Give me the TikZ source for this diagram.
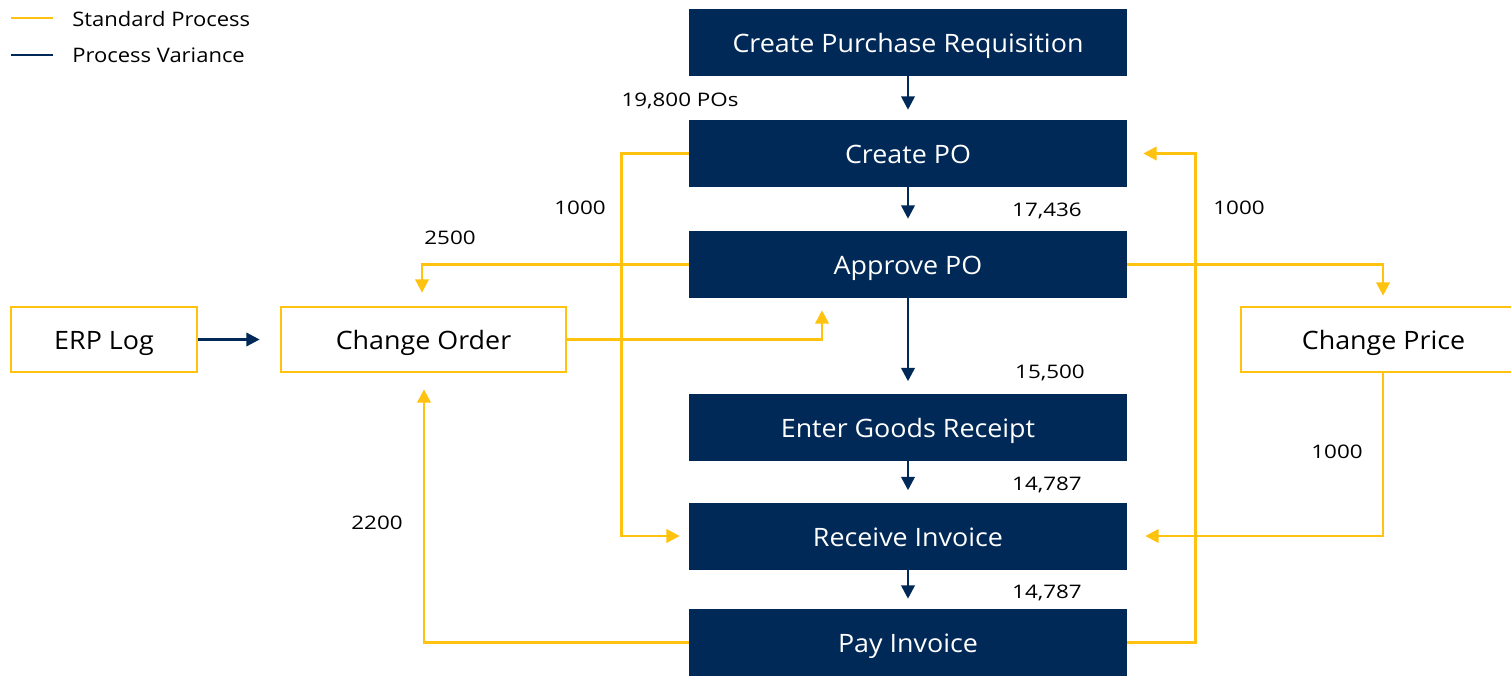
\documentclass[tikz,border=0pt]{standalone}
\usepackage{fontspec}
\setmainfont{Open Sans}
\newfontfamily\boxfont[FakeStretch=1.06]{Open Sans}
\newfontfamily\lblfont[FakeStretch=1.2]{Open Sans}
\newfontfamily\legfont[FakeStretch=1.1]{Open Sans}
\usetikzlibrary{arrows.meta,calc}
\definecolor{navy}{RGB}{0,41,87}
\definecolor{gold}{RGB}{255,194,14}
\tikzset{
  mainbox/.style={fill=navy, draw=none, text=white, minimum width=328.5pt, minimum height=50.25pt, inner sep=0pt, text height=15.6pt, text depth=0pt, font=\boxfont\fontsize{19}{22}\selectfont},
  sidebox/.style={draw=gold, line width=2pt, fill=white, text=black, minimum height=48.75pt, inner sep=0pt, text height=15.6pt, text depth=0pt, font=\boxfont\fontsize{19}{22}\selectfont},
  lbl/.style={inner sep=0pt, text=black, font=\lblfont\fontsize{14}{16}\selectfont},
  leg/.style={inner sep=0pt, text=black, font=\legfont\fontsize{15}{18}\selectfont},
  yarrow/.style={draw=gold, line width=2pt, -{Triangle[length=10pt,width=10pt]}},
  narrow/.style={draw=navy, line width=2pt, -{Triangle[length=10pt,width=10pt]}},
}
\begin{document}
\begin{tikzpicture}[x=0.75pt,y=-0.75pt]
\useasboundingbox (0,0) rectangle (1511,676);
% main column
\node[mainbox] (cpr) at (908,42.5) {Create Purchase Requisition};
\node[mainbox] (cpo) at (908,153.5) {Create PO};
\node[mainbox] (apo) at (908,264.5) {Approve PO};
\node[mainbox] (egr) at (908,427) {Enter Goods Receipt};
\node[mainbox] (ri) at (908,536) {Receive Invoice};
\node[mainbox] (pi) at (908,642.5) {Pay Invoice};
% side boxes
\node[sidebox, minimum width=139.5pt] (erp) at (104,339.5) {ERP Log};
\node[sidebox, minimum width=213.75pt] (co) at (423.5,339.5) {Change Order};
\node[sidebox, minimum width=213.75pt] (cp) at (1383.5,339.5) {Change Price};
% dark arrows
\draw[narrow] (cpr.south) -- ($(cpo.north)+(0,-10)$);
\draw[narrow] (cpo.south) -- ($(apo.north)+(0,-12)$);
\draw[narrow] (apo.south) -- ($(egr.north)+(0,-12)$);
\draw[narrow] (egr.south) -- ($(ri.north)+(0,-12)$);
\draw[narrow] (ri.south) -- ($(pi.north)+(0,-10)$);
\draw[narrow] (erp.east) -- ($(co.west)+(-20,0)$);
% yellow arrows
\draw[yarrow] (cpo.west) -- ++(-67,0) |- ($(ri.west)+(-9,0)$);
\draw[yarrow] (apo.west) -| ($(co.north)+(-1.5,-13)$);
\draw[yarrow] (co.east) -| ($(apo.south)+(-86,12)$);
\draw[yarrow] (pi.west) -| ($(co.south)+(0.5,16)$);
\draw[yarrow] (apo.east) -| ($(cp.north)+(-0.5,-10)$);
\draw[yarrow] (pi.east) -- ++(68,0) |- ($(cpo.east)+(16,0)$);
\draw[yarrow] (cp.south) ++(-0.5,0) |- ($(ri.east)+(18,0)$);
% labels
\node[lbl] (l1) at (680,101) {19,800 POs};
\node[lbl] (l2) at (580,208) {1000};
\node[lbl] (l3) at (1047,211) {17,436};
\node[lbl] (l4) at (450,238) {2500};
\node[lbl] (l5) at (1239,208) {1000};
\node[lbl] (l6) at (1050,373) {15,500};
\node[lbl] (l7) at (1337,452) {1000};
\node[lbl] (l8) at (1047,485) {14,787};
\node[lbl] (l9) at (377,523) {2200};
\node[lbl] (l10) at (1047,593) {14,787};
% legend
\coordinate (ya) at (11,18);
\coordinate (yb) at (53,18);
\coordinate (na) at (11,55);
\coordinate (nb) at (53,55);
\draw[draw=gold, line width=2pt] (ya) -- (yb);
\draw[draw=navy, line width=2pt] (na) -- (nb);
\node[leg, anchor=west] (lg1) at (72,19) {Standard Process};
\node[leg, anchor=west] (lg2) at (72,55) {Process Variance};
\end{tikzpicture}
\end{document}
